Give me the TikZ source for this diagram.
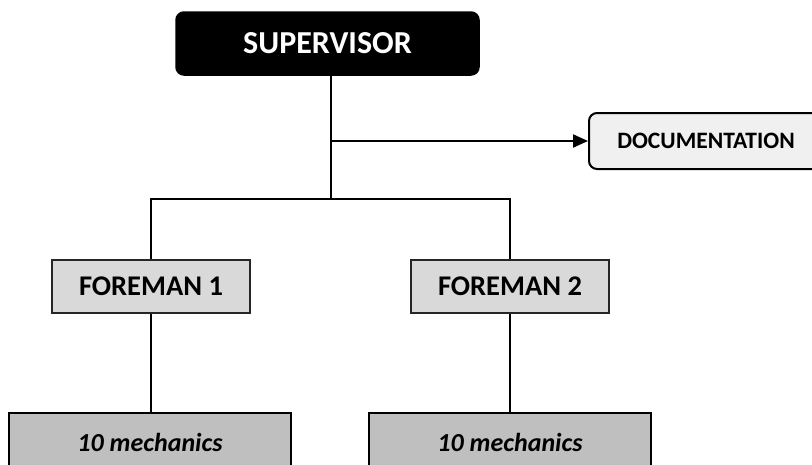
\documentclass[tikz,border=0pt]{standalone}
\usepackage{fontspec}
\setmainfont{Carlito}
\usetikzlibrary{arrows.meta}

\definecolor{docgray}{HTML}{F0F0F0}
\definecolor{foregray}{HTML}{D9D9D9}
\definecolor{mechgray}{HTML}{BFBFBF}

\tikzset{
	chief/.style={draw=black,fill=black,text=white,rounded corners=8pt,line width=1.5pt,
		minimum width=303pt,minimum height=63pt,font=\fontsize{32}{38}\selectfont\bfseries},
	docbox/.style={draw=black,fill=docgray,rounded corners=8pt,line width=2pt,
		minimum width=234pt,minimum height=56pt,font=\fontsize{23.5}{28}\selectfont\bfseries},
	foreman/.style={draw=black!85,fill=foregray,line width=1.7pt,
		minimum width=198pt,minimum height=53pt,font=\fontsize{28.5}{34}\selectfont\bfseries},
	crew/.style={draw=black,fill=mechgray,line width=2pt,
		minimum width=282pt,minimum height=58pt,font=\fontsize{26}{31}\selectfont\bfseries\itshape},
	link/.style={line width=2pt}
}

\begin{document}
\begin{tikzpicture}[x=1pt,y=-1pt]
	\useasboundingbox (0,0) rectangle (812,464);
	\clip (0,0) rectangle (812,464);

	% Nodes
	\node[chief] (Sup) at (327.5,43.5) {SUPERVISOR};
	\node[docbox] (Doc) at (706,141) {DOCUMENTATION};
	\node[foreman] (F1) at (151,286.5) {FOREMAN 1};
	\node[foreman] (F2) at (510,286.5) {FOREMAN 2};
	\node[crew] (M1) at (150,442) {10 mechanics};
	\node[crew] (M2) at (510,442) {10 mechanics};
	\coordinate (Ja) at (331,141);
	\coordinate (Jb) at (331,199);

	% Arrows
	\draw[link] (Sup.south -| Jb) -- (Jb);
	\draw[link,-{Triangle[length=15pt,width=13pt]}] (Ja) -- (Doc.west);
	\draw[link] (F1.north) |- (Jb) -| (F2.north);
	\draw[link] (F1.south) -- (F1.south |- M1.north);
	\draw[link] (F2.south) -- (M2.north);
\end{tikzpicture}
\end{document}
